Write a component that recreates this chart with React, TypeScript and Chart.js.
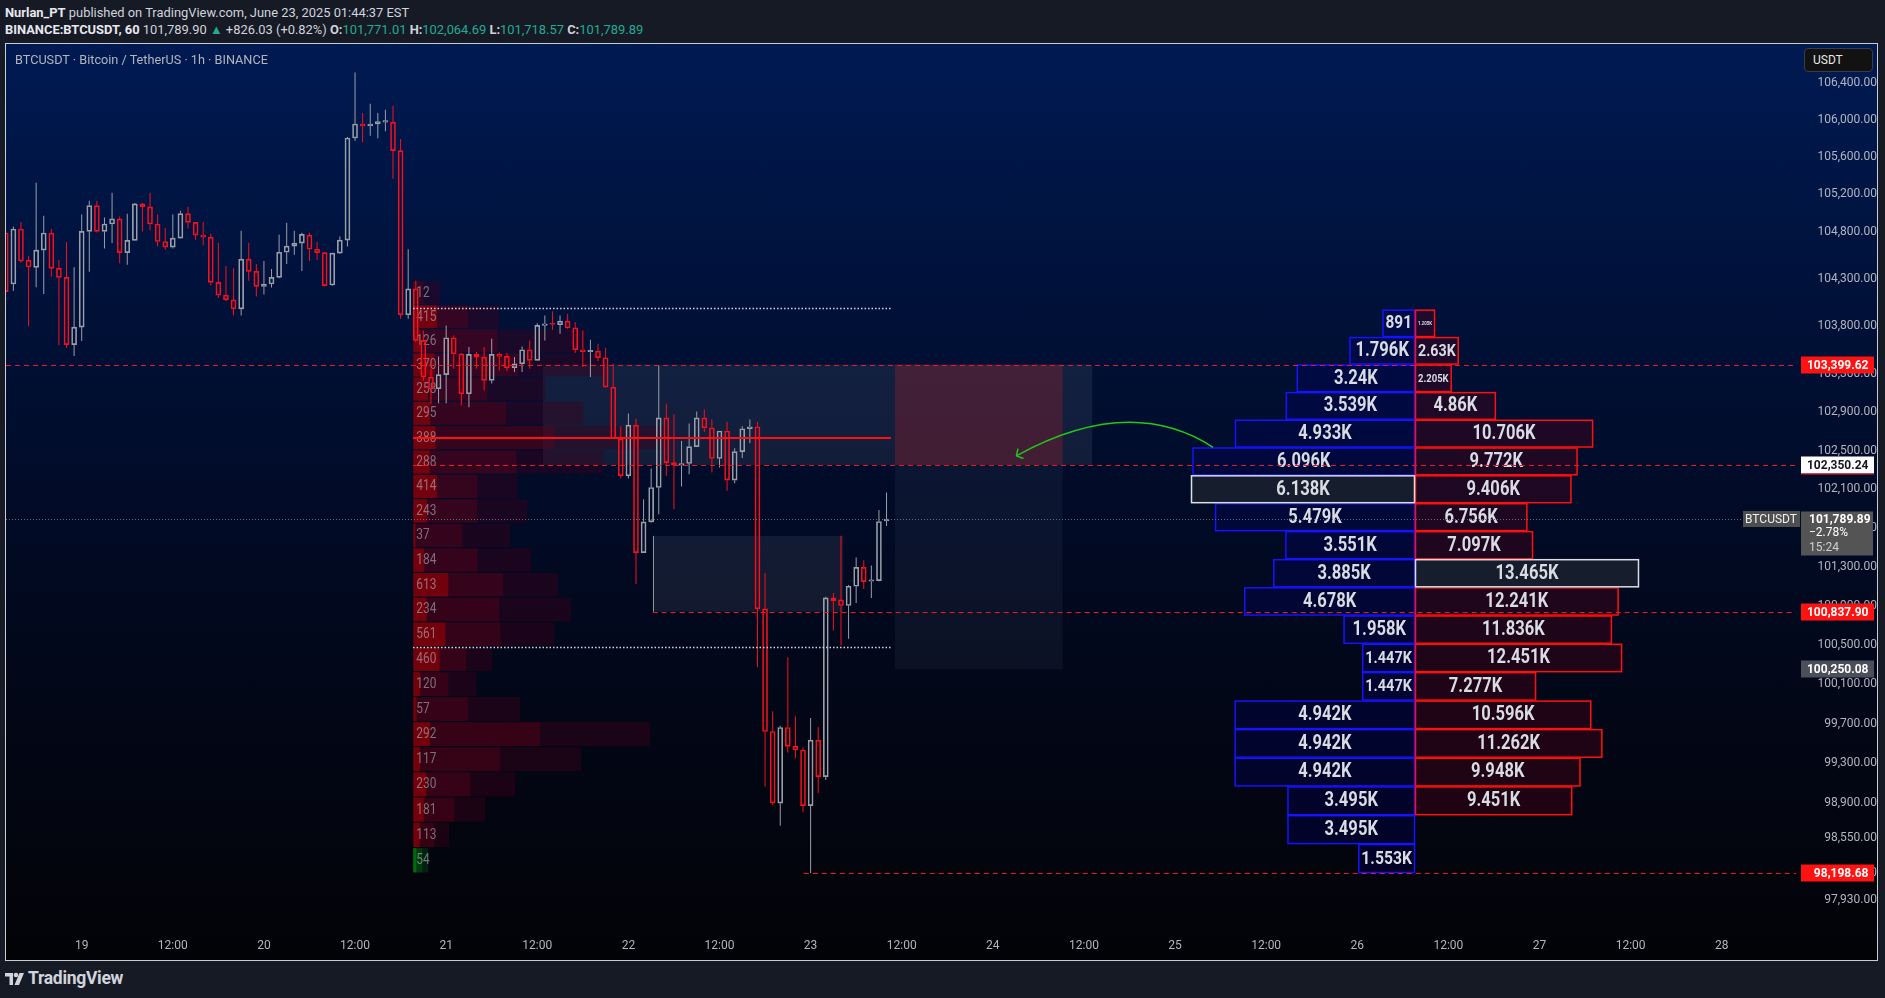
import React, { useEffect, useRef } from 'react';
import { Chart, registerables } from 'chart.js';

Chart.register(...registerables);

// ===================== DATA =====================
// hourly candles, hour offsets counted from 19 Jun 00:00
const START_HOUR = -10;
const OPEN = [
  104789, 104248, 104832, 104500, 104425, 104607, 104789, 104414, 104318, 103608,
  103793, 104806, 105081, 104806, 104885, 104939, 104581, 104710, 105099, 105067,
  104885, 104699, 104639, 104735, 104995, 104902, 104767, 104746, 104265, 104129,
  104080, 103986, 104511, 104382, 104223, 104248, 104318, 104585, 104650, 104682,
  104767, 104617, 104581, 104238, 104575, 104714, 105805, 105955, 105934, 105955,
  105976, 105976, 105669, 103923, 104196, 103653, 103268, 103146, 103293, 103681,
  103513, 103093, 103506, 103478, 103233, 103506, 103485, 103366, 103408, 103555,
  103443, 103811, 103828, 103818, 103856, 103786, 103555, 103534, 103541, 103471,
  103163, 102625, 102238, 102765, 101445, 101762, 102117, 102842, 102376, 102348,
  102366, 102542, 102842, 102738, 102418, 102704, 102193, 102490, 102728, 102749,
  100867, 99619, 98897, 99660, 99469, 99432, 98873, 99532, 99164, 100979,
  100959, 100901, 101099, 101292, 101150, 101156, 101771.01,
];
const HIGH = [
  104806, 104859, 104906, 104546, 105324, 104974, 104832, 104503, 104692, 104425,
  104985, 105134, 105134, 104953, 105217, 104966, 104995, 105110, 105110, 105217,
  104985, 104842, 104985, 105027, 105070, 104906, 104906, 104781, 104685, 104439,
  104414, 104813, 104685, 104460, 104492, 104407, 104771, 104899, 104813, 104792,
  104792, 104696, 104590, 104580, 104752, 105816, 106511, 106073, 106172, 106073,
  106108, 106151, 105795, 104617, 104283, 103758, 103356, 103485, 103811, 103706,
  103520, 103583, 103530, 103583, 103671, 103527, 103520, 103478, 103590, 103653,
  103835, 103916, 103961, 103916, 103933, 103845, 103758, 103660, 103618, 103576,
  103408, 102755, 102887, 102832, 101996, 102314, 103390, 102988, 102876, 102600,
  102783, 102908, 102929, 102824, 102704, 102800, 102524, 102755, 102824, 102800,
  101234, 99824, 99677, 100374, 99773, 99460, 99755, 99665, 100990, 101030,
  101617, 101112, 101393, 101365, 101313, 101883, 102064.69,
];
const LOW = [
  104160, 104178, 104474, 103803, 104213, 104143, 104324, 103601, 103576, 103488,
  103646, 104378, 104795, 104624, 104682, 104468, 104453, 104705, 104806, 104817,
  104645, 104610, 104624, 104730, 104838, 104717, 104660, 104234, 104101, 104066,
  103916, 103916, 104283, 104115, 104136, 104210, 104310, 104460, 104557, 104385,
  104492, 104503, 104223, 104230, 104565, 104645, 105776, 105758, 105830, 105801,
  105876, 105367, 103881, 103881, 103635, 103233, 102988, 102995, 102995, 103356,
  102970, 102953, 103356, 103128, 103200, 103338, 103331, 103320, 103320, 103356,
  103440, 103653, 103765, 103723, 103776, 103520, 103373, 103268, 103436, 103160,
  102620, 102211, 102211, 101122, 101440, 101755, 101841, 102238, 101893, 102128,
  102255, 102540, 102693, 102273, 102324, 102083, 102162, 102424, 102576, 100272,
  99063, 98880, 98672, 99408, 99348, 98807, 98198.68, 98999, 99131, 100646,
  100493, 100561, 100928, 101071, 100979, 101150, 101718.57,
];
const CLOSE = [
  104168, 104832, 104492, 104428, 104607, 104789, 104414, 104318, 103608, 103793,
  104806, 105081, 104806, 104885, 104939, 104581, 104710, 105099, 105067, 104885,
  104699, 104639, 104735, 104995, 104902, 104767, 104746, 104265, 104129, 104080,
  103986, 104511, 104382, 104223, 104248, 104318, 104585, 104650, 104682, 104774,
  104617, 104581, 104231, 104575, 104714, 105805, 105955, 105934, 105955, 105980,
  105980, 105669, 103923, 104196, 103653, 103268, 103146, 103293, 103681, 103513,
  103093, 103506, 103478, 103233, 103506, 103485, 103366, 103408, 103555, 103443,
  103811, 103828, 103821, 103856, 103786, 103555, 103534, 103541, 103471, 103163,
  102625, 102238, 102765, 101445, 101762, 102117, 102842, 102376, 102348, 102366,
  102542, 102842, 102738, 102418, 102704, 102193, 102490, 102728, 102749, 100867,
  99619, 98897, 99660, 99469, 99432, 98873, 99532, 99164, 100979, 100952,
  100901, 101099, 101292, 101146, 101163, 101765, 101789.89,
];

const X_TICKS = [0, 12, 24, 36, 48, 60, 72, 84, 96, 108, 120, 132, 144, 156, 168, 180, 192, 204, 216];
const X_TICK_LABELS = ['19', '12:00', '20', '12:00', '21', '12:00', '22', '12:00', '23', '12:00', '24', '12:00', '25', '12:00', '26', '12:00', '27', '12:00', '28'];
const Y_TICKS = [106400, 106000, 105600, 105200, 104800, 104300, 103800, 103300, 102900, 102500, 102100, 101700, 101300, 100900, 100500, 100100, 99700, 99300, 98900, 98550, 98200, 97930];

// session volume profile (left), 24 rows from session high to low
const VP_START_HOUR = 44;
const VP_DELTA = [12, 415, 126, 370, 258, 295, 388, 288, 414, 243, 37, 184, 613, 234, 561, 460, 120, 57, 292, 117, 230, 181, 113, 54];
const VP_BUY = [175, 963, 1470, 1838, 1295, 1628, 2468, 1803, 1120, 1120, 858, 1120, 1575, 1505, 1523, 928, 613, 963, 2223, 1523, 998, 718, 368, 158];
const VP_TOTAL = [473, 1505, 3010, 3325, 2310, 2975, 4428, 3325, 1820, 1995, 1698, 2065, 2538, 2765, 2468, 1383, 1103, 1873, 4148, 2940, 1785, 1260, 630, 263];
const VP_GREEN = [false, false, false, false, false, false, false, false, false, false, false, false, false, false, false, false, false, false, false, false, false, false, false, true];

// buy / sell profile (right), 20 rows
const RP_TOP = 103977;
const RP_BOTTOM = 98198.68;
const RP_BUY = [891, 1796, 3240, 3539, 4933, 6096, 6138, 5479, 3551, 3885, 4678, 1958, 1447, 1447, 4942, 4942, 4942, 3495, 3495, 1553];
const RP_SELL = [1205, 2630, 2205, 4860, 10706, 9772, 9406, 6756, 7097, 13465, 12241, 11836, 12451, 7277, 10596, 11262, 9948, 9451, 0, 0];

// levels
const LEVEL_HIGH = 103399.62;
const LEVEL_MID = 102350.24;
const LEVEL_FVG = 100837.9;
const LEVEL_LOW = 98198.68;
const LEVEL_ZONE_LOW = 100250.08;
const FVG_TOP = 101617;
const POC = 102635;
const VA_HIGH = 103996;
const VA_LOW = 100476;
const LAST_PRICE = 101789.89;

// ===================== VIEW / STYLE =====================
const X_MIN = -9.97;
const X_MAX = 225.78;
const Y_MIN = 97612.5;
const Y_MAX = 106818.8;
const RED = '#f7101c';
const GRAY = '#9a9ea8';
const BODY_W = 5;
const VP_WIDTH_BARS = 33.3;
const RP_CENTER_HOUR = 175.6;
const RP_WIDTH_BARS = 29.5;
const TEAL = '#22ab94';
const COND = 0.85;

const fmtPrice = (v: number) =>
  v.toLocaleString('en-US', { minimumFractionDigits: 2, maximumFractionDigits: 2 });
const fmtK = (v: number) =>
  v < 1000 ? String(v) : (v / 1000).toFixed(3).replace(/0+$/, '').replace(/\.$/, '') + 'K';

const HOURS = OPEN.map((_, i) => START_HOUR + i);
const isUp = (i: number) => CLOSE[i] >= OPEN[i];

function condText(ctx: any, text: string, x: number, y: number, align: string, font: string, color: string, sx = COND) {
  ctx.save();
  ctx.font = font;
  ctx.fillStyle = color;
  ctx.textAlign = align;
  ctx.textBaseline = 'middle';
  ctx.translate(x, y);
  ctx.scale(sx, 1);
  ctx.fillText(text, 0, 0);
  ctx.restore();
}

function fitText(ctx: any, text: string, cx: number, cy: number, boxW: number) {
  const base = 19.5;
  ctx.save();
  ctx.font = `bold ${base}px Roboto`;
  const w = ctx.measureText(text).width * COND;
  const avail = boxW - 6;
  const size = w > avail ? Math.max(2.5, (base * avail) / w) : base;
  ctx.restore();
  condText(ctx, text, cx, cy + 0.5, 'center', `bold ${size}px Roboto`, '#d9dce3');
}

const tvPlugin = {
  id: 'tvOverlay',
  beforeDatasetsDraw(chart: any) {
    const { ctx, chartArea: a } = chart;
    const xs = chart.scales.x;
    const ys = chart.scales.y;
    const X = (h: number) => xs.getPixelForValue(h);
    const Y = (p: number) => ys.getPixelForValue(p);
    ctx.save();
    ctx.beginPath();
    ctx.rect(a.left, a.top, a.right - a.left, a.bottom - a.top);
    ctx.clip();

    // zones
    const zones = [
      { from: 60.75, to: 133.1, top: LEVEL_HIGH, bottom: LEVEL_MID, fill: 'rgba(140,145,160,0.13)' },
      { from: 107.1, to: 129.2, top: LEVEL_HIGH, bottom: LEVEL_MID, fill: 'rgba(175,34,40,0.30)' },
      { from: 107.1, to: 129.2, top: LEVEL_MID, bottom: LEVEL_ZONE_LOW, fill: 'rgba(140,145,160,0.08)' },
      { from: 75.2, to: 100.3, top: FVG_TOP, bottom: LEVEL_FVG, fill: 'rgba(140,145,160,0.13)', edge: '#8f929b' },
    ];
    for (const z of zones) {
      const x0 = X(z.from), x1 = X(z.to), y0 = Y(z.top), y1 = Y(z.bottom);
      ctx.fillStyle = z.fill;
      ctx.fillRect(x0, y0, x1 - x0, y1 - y0);
      if (z.edge) {
        ctx.strokeStyle = z.edge;
        ctx.lineWidth = 1;
        ctx.beginPath();
        ctx.moveTo(Math.round(x0) + 0.5, y0);
        ctx.lineTo(Math.round(x0) + 0.5, y1);
        ctx.stroke();
      }
    }

    // left session volume profile
    const s = VP_START_HOUR - START_HOUR;
    const vpHigh = Math.max(...HIGH.slice(s));
    const vpLow = Math.min(...LOW.slice(s));
    const n = VP_TOTAL.length;
    const bin = (vpHigh - vpLow) / n;
    const left = X(VP_START_HOUR) - BODY_W / 2;
    const barPx = X(1) - X(0);
    const maxT = Math.max(...VP_TOTAL);
    const W = (v: number) => (v / maxT) * VP_WIDTH_BARS * barPx;
    for (let i = 0; i < n; i++) {
      const t = Y(vpHigh - i * bin);
      const b = Y(vpHigh - (i + 1) * bin);
      const h = b - t - 1.2;
      const g = VP_GREEN[i];
      ctx.fillStyle = g ? 'rgba(0,70,20,0.45)' : 'rgba(62,0,26,0.42)';
      ctx.fillRect(left, t + 0.6, W(VP_TOTAL[i]), h);
      ctx.fillStyle = g ? 'rgba(0,110,20,0.32)' : 'rgba(112,0,22,0.32)';
      ctx.fillRect(left, t + 0.6, W(VP_BUY[i]), h);
      ctx.fillStyle = g ? 'rgba(0,150,10,0.55)' : 'rgba(160,0,6,0.58)';
      ctx.fillRect(left, t + 0.6, W(VP_DELTA[i]), h);
      condText(ctx, String(VP_DELTA[i]), left + 3, (t + b) / 2 + 0.5, 'left', '14px Roboto', 'rgba(185,186,192,0.58)');
    }
    ctx.restore();
  },
  afterDatasetsDraw(chart: any) {
    const { ctx, chartArea: a } = chart;
    const xs = chart.scales.x;
    const ys = chart.scales.y;
    const X = (h: number) => xs.getPixelForValue(h);
    const Y = (p: number) => ys.getPixelForValue(p);
    ctx.save();
    ctx.beginPath();
    ctx.rect(a.left, a.top, a.right - a.left, a.bottom - a.top);
    ctx.clip();

    // right buy/sell profile
    const cx = Math.round(X(RP_CENTER_HOUR));
    const barPx = X(1) - X(0);
    const rn = RP_BUY.length;
    const rbin = (RP_TOP - RP_BOTTOM) / rn;
    const maxB = Math.max(...RP_BUY);
    const maxS = Math.max(...RP_SELL);
    const cells: any[] = [];
    for (let i = 0; i < rn; i++) {
      const t = Y(RP_TOP - i * rbin);
      const b = Y(RP_TOP - (i + 1) * rbin);
      if (RP_BUY[i] > 0) {
        const w = (RP_BUY[i] / maxB) * RP_WIDTH_BARS * barPx;
        cells.push({ x: cx - w, t, w, h: b - t, v: RP_BUY[i], hl: RP_BUY[i] === maxB, buy: true });
      }
      if (RP_SELL[i] > 0) {
        const w = (RP_SELL[i] / maxS) * RP_WIDTH_BARS * barPx;
        cells.push({ x: cx, t, w, h: b - t, v: RP_SELL[i], hl: RP_SELL[i] === maxS, buy: false });
      }
    }
    cells.sort((p, q) => Number(p.hl) - Number(q.hl));
    for (const c of cells) {
      ctx.fillStyle = c.hl ? '#161d2d' : c.buy ? 'rgba(0,0,112,0.27)' : 'rgba(92,0,22,0.32)';
      ctx.fillRect(c.x, c.t, c.w, c.h);
      ctx.strokeStyle = c.hl ? '#dcdfe5' : c.buy ? '#1414ff' : '#ff1010';
      ctx.lineWidth = 1.5;
      ctx.strokeRect(c.x + 0.5, c.t + 0.5, c.w - 1, c.h - 1);
    }
    for (const c of cells) fitText(ctx, fmtK(c.v), c.x + c.w / 2, c.t + c.h / 2, c.w);

    const hline = (v: number, from: number, to: number, color: string, dash: number[], lw: number) => {
      const y = Math.round(Y(v)) + (lw % 2 ? 0.5 : 0);
      ctx.save();
      ctx.strokeStyle = color;
      ctx.lineWidth = lw;
      ctx.setLineDash(dash);
      ctx.beginPath();
      ctx.moveTo(X(from), y);
      ctx.lineTo(X(to), y);
      ctx.stroke();
      ctx.restore();
    };
    const vpFrom = VP_START_HOUR - 0.36;
    hline(LAST_PRICE, X_MIN, X_MAX, '#6a6d78', [1, 2], 1);
    hline(VA_HIGH, vpFrom, 106.7, '#d6d8de', [1.5, 2], 1.5);
    hline(VA_LOW, vpFrom, 106.7, '#d6d8de', [1.5, 2], 1.5);
    hline(POC, vpFrom, 106.6, '#ff1010', [], 2);
    hline(LEVEL_HIGH, X_MIN, X_MAX, '#f01620', [5, 4], 1);
    hline(LEVEL_MID, vpFrom, X_MAX, '#f01620', [5, 4], 1);
    hline(LEVEL_FVG, 75.2, X_MAX, '#f01620', [5, 4], 1);
    hline(LEVEL_LOW, 95.1, X_MAX, '#f01620', [5, 4], 1);

    // curved arrow
    const p0 = [X(149.0), Y(102535)];
    const pc = [X(138.0), Y(103097)];
    const p1 = [X(123.1), Y(102445)];
    ctx.strokeStyle = '#24c81c';
    ctx.lineWidth = 1.5;
    ctx.setLineDash([]);
    ctx.beginPath();
    ctx.moveTo(p0[0], p0[1]);
    ctx.quadraticCurveTo(pc[0], pc[1], p1[0], p1[1]);
    ctx.stroke();
    const ang = Math.atan2(pc[1] - p1[1], pc[0] - p1[0]);
    ctx.beginPath();
    for (const d of [-0.85, 0.85]) {
      ctx.moveTo(p1[0], p1[1]);
      ctx.lineTo(p1[0] + 7.5 * Math.cos(ang + d), p1[1] + 7.5 * Math.sin(ang + d));
    }
    ctx.stroke();
    ctx.restore();
  },
  afterDraw(chart: any) {
    const { ctx, chartArea: a } = chart;
    const ys = chart.scales.y;
    const Y = (p: number) => ys.getPixelForValue(p);
    const tagL = a.right + 5;
    const tags = [
      { v: LEVEL_HIGH, bg: '#ff1212', fg: '#ffffff' },
      { v: LEVEL_MID, bg: '#ffffff', fg: '#131722', line: '#ff1212' },
      { v: LEVEL_FVG, bg: '#ff1212', fg: '#ffffff' },
      { v: LEVEL_ZONE_LOW, bg: '#4b4f59', fg: '#ffffff' },
      { v: LEVEL_LOW, bg: '#ff1212', fg: '#ffffff' },
    ];
    ctx.save();
    for (const t of tags) {
      const y = Math.round(Y(t.v));
      ctx.fillStyle = t.bg;
      ctx.fillRect(tagL, y - 8.5, 73, 17);
      if (t.line) {
        ctx.fillStyle = t.line;
        ctx.fillRect(tagL, y + 8.5, 73, 1);
      }
      ctx.font = 'bold 12px Roboto';
      ctx.fillStyle = t.fg;
      ctx.textAlign = 'right';
      ctx.textBaseline = 'middle';
      ctx.fillText(fmtPrice(t.v), tagL + 67.5, y + 0.5);
    }
    // last price box
    const y = Math.round(Y(LAST_PRICE));
    ctx.fillStyle = '#545454';
    ctx.fillRect(tagL, y - 7.5, 72, 44);
    ctx.fillStyle = '#4e4e4e';
    ctx.fillRect(a.right - 53, y - 8, 57, 16);
    ctx.textAlign = 'left';
    ctx.textBaseline = 'middle';
    ctx.font = 'bold 12px Roboto';
    ctx.fillStyle = '#ffffff';
    ctx.fillText(fmtPrice(LAST_PRICE), tagL + 8, y + 0.5);
    ctx.font = '12px Roboto';
    ctx.fillText('\u22122.78%', tagL + 8, y + 14);
    ctx.fillStyle = '#d0d0d0';
    ctx.fillText('15:24', tagL + 8, y + 28.5);
    ctx.fillStyle = '#f0f0f0';
    ctx.textAlign = 'center';
    ctx.fillText('BTCUSDT', a.right - 25, y + 0.5);
    ctx.restore();
  },
};

const App = () => {
  const ref = useRef<HTMLCanvasElement>(null);
  useEffect(() => {
    const canvas = ref.current as HTMLCanvasElement;
    const body = HOURS.map((h, i) => ({ x: h, y: [Math.min(OPEN[i], CLOSE[i]), Math.max(OPEN[i], CLOSE[i])] }));
    const upper = HOURS.map((h, i) => ({ x: h, y: [Math.max(OPEN[i], CLOSE[i]), HIGH[i]] }));
    const lower = HOURS.map((h, i) => ({ x: h, y: [LOW[i], Math.min(OPEN[i], CLOSE[i])] }));
    const col = (c: any) => (isUp(c.dataIndex) ? GRAY : RED);
    const chart = new Chart(canvas, {
      type: 'bar',
      data: {
        datasets: [
          { label: 'upper wick', data: upper as any, backgroundColor: col, borderWidth: 0, barThickness: 1, grouped: false, inflateAmount: 0 } as any,
          { label: 'lower wick', data: lower as any, backgroundColor: col, borderWidth: 0, barThickness: 1, grouped: false, inflateAmount: 0 } as any,
          { label: 'body', data: body as any, backgroundColor: 'rgba(0,0,0,0)', borderColor: col, borderWidth: 1, barThickness: BODY_W, minBarLength: 1.5, borderSkipped: false, grouped: false } as any,
        ],
      },
      options: {
        responsive: false,
        animation: false,
        events: [],
        layout: { padding: 0 },
        plugins: { legend: { display: false }, tooltip: { enabled: false } },
        scales: {
          x: {
            type: 'linear',
            min: X_MIN,
            max: X_MAX,
            offset: false,
            bounds: 'data',
            position: 'bottom',
            grid: { display: false, drawTicks: false },
            border: { display: false },
            ticks: {
              color: '#b2b5be',
              font: { family: 'Roboto', size: 12 },
              padding: 7,
              autoSkip: false,
              maxRotation: 0,
              minRotation: 0,
              callback: (_v: any, i: number) => X_TICK_LABELS[i],
            },
            afterBuildTicks: (s: any) => {
              s.ticks = X_TICKS.map((value) => ({ value }));
            },
            afterFit: (s: any) => {
              s.height = 28;
              s.paddingLeft = 0;
              s.paddingRight = 0;
            },
          },
          y: {
            type: 'logarithmic',
            position: 'right',
            min: Y_MIN,
            max: Y_MAX,
            bounds: 'data',
            grid: { display: false, drawTicks: false },
            border: { display: false },
            ticks: {
              color: '#b2b5be',
              font: { family: 'Roboto', size: 12 },
              padding: 13,
              crossAlign: 'far',
              autoSkip: false,
              callback: (v: any) => fmtPrice(Number(v)),
            },
            afterBuildTicks: (s: any) => {
              s.ticks = Y_TICKS.map((value) => ({ value }));
            },
            afterFit: (s: any) => {
              s.width = 81;
              s.paddingTop = 0;
              s.paddingBottom = 0;
            },
          },
        },
      } as any,
      plugins: [tvPlugin as any],
    });
    return () => chart.destroy();
  }, []);

  return (
    <div style={{ position: 'fixed', left: 0, top: 0, width: 1885, height: 998, background: '#161a25', fontFamily: 'Roboto, sans-serif', overflow: 'hidden' }}>
      <div style={{ position: 'absolute', left: 5, top: 4, color: '#d1d4dc', fontSize: 12.9, lineHeight: '17px', whiteSpace: 'nowrap' }}>
        <div><b style={{ color: '#e6e8ee' }}>Nurlan_PT</b> published on TradingView.com, June 23, 2025 01:44:37 EST</div>
        <div>
          <b style={{ color: '#e6e8ee' }}>BINANCE:BTCUSDT, 60</b> 101,789.90 <span style={{ color: TEAL }}>▲</span> +826.03 (+0.82%){' '}
          <b>O:</b><span style={{ color: TEAL }}>101,771.01</span> <b>H:</b><span style={{ color: TEAL }}>102,064.69</span>{' '}
          <b>L:</b><span style={{ color: TEAL }}>101,718.57</span> <b>C:</b><span style={{ color: TEAL }}>101,789.89</span>
        </div>
      </div>
      <div style={{ position: 'absolute', left: 5, top: 43, width: 1873, height: 918, boxSizing: 'border-box', border: '1px solid #c9ccd5' }} />
      <div
        style={{
          position: 'absolute', left: 6, top: 44, width: 1871, height: 916,
          background: 'linear-gradient(to bottom, rgb(0,26,82) 0%, rgb(0,17,57) 28%, rgb(1,12,42) 46%, rgb(2,8,27) 66%, rgb(3,4,11) 93%, rgb(2,3,6) 100%)',
        }}
      >
        <canvas ref={ref} width={1871} height={916} style={{ position: 'absolute', left: 0, top: 0 }} />
        <div style={{ position: 'absolute', left: 9, top: 9, color: '#b2b5be', fontSize: 12.7, lineHeight: '14px', whiteSpace: 'nowrap' }}>
          BTCUSDT · Bitcoin / TetherUS · 1h · BINANCE
        </div>
        <div style={{ position: 'absolute', left: 1798, top: 4, width: 69, height: 24, boxSizing: 'border-box', background: '#121212', border: '1px solid #3a3d45', borderRadius: 4, color: '#e8e8e8', fontSize: 12, lineHeight: '22px', paddingLeft: 8 }}>
          USDT
        </div>
      </div>
      <svg style={{ position: 'absolute', left: 5, top: 972 }} width={20} height={14} viewBox="0 0 20 14">
        <path d="M0 1h8v12H4.5V4.5H0z" fill="#d1d4dc" />
        <circle cx="11" cy="3" r="2.3" fill="#d1d4dc" />
        <path d="M9.5 13L14.5 1H19L14 13z" fill="#d1d4dc" />
      </svg>
      <div style={{ position: 'absolute', left: 28, top: 968, color: '#d1d4dc', fontSize: 17.5, fontWeight: 700, lineHeight: '20px', letterSpacing: -0.3 }}>
        TradingView
      </div>
    </div>
  );
};

export default App;
